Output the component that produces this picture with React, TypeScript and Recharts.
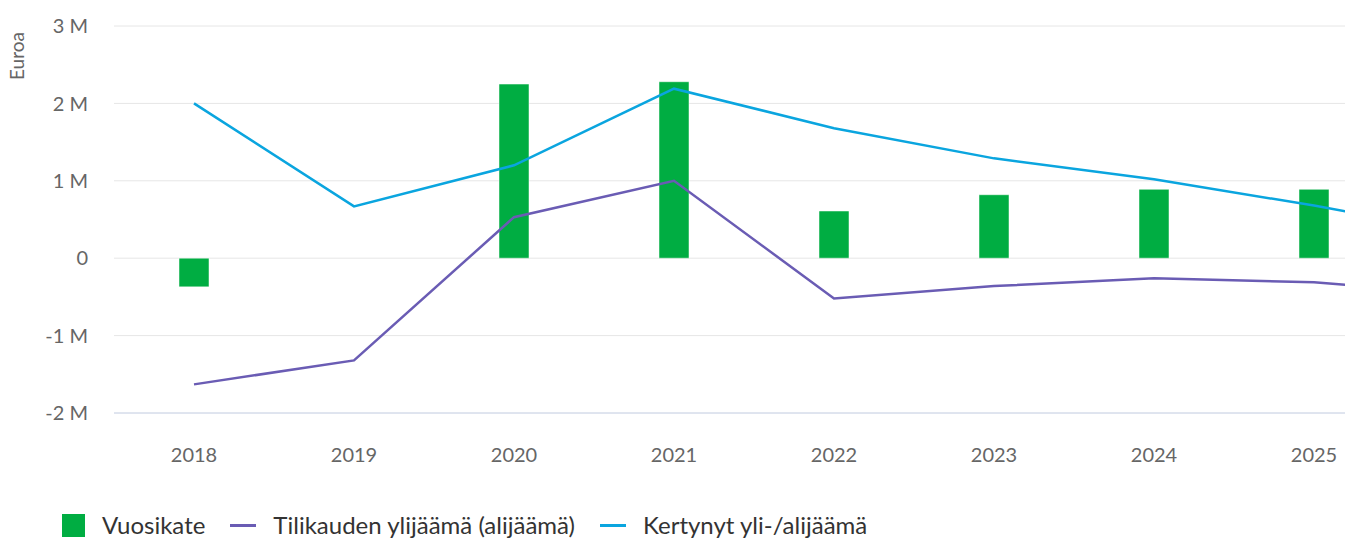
import React from 'react';
import {
  ComposedChart,
  Bar,
  Line,
  XAxis,
  YAxis,
  CartesianGrid,
  Legend,
} from 'recharts';

// values in millions of euros
const years = ['2018', '2019', '2020', '2021', '2022', '2023', '2024', '2025', '2026'];
const shownYears = ['2018', '2019', '2020', '2021', '2022', '2023', '2024', '2025'];
const vuosikate = [-0.37, null, 2.25, 2.28, 0.61, 0.82, 0.89, 0.89, null];
const tilikaudenYlijaama = [-1.63, -1.32, 0.53, 1.0, -0.52, -0.36, -0.26, -0.31, -0.48];
const kertynytYlijaama = [2.0, 0.67, 1.2, 2.19, 1.68, 1.29, 1.02, 0.68, 0.3];
const yTicks = [-2, -1, 0, 1, 2, 3];
const legendOrder = ['vuosikate', 'tilikausi', 'kertynyt'];

const data = years.map((year, i) => ({
  year,
  vuosikate: vuosikate[i],
  tilikausi: tilikaudenYlijaama[i],
  kertynyt: kertynytYlijaama[i],
}));

const font = 'Lato, "Open Sans", sans-serif';

const formatY = (v: number) => (v === 0 ? '0' : `${v} M`);

const renderLegend = (props: any) => {
  const items = [...(props.payload || [])].sort(
    (a: any, b: any) => legendOrder.indexOf(a.dataKey) - legendOrder.indexOf(b.dataKey)
  );
  return (
    <div style={{ display: 'flex', alignItems: 'center', height: 20, fontFamily: font, fontSize: 24, color: '#333' }}>
      {items.map((item: any) => (
        <div key={item.value} style={{ display: 'flex', alignItems: 'center', marginRight: 25 }}>
          {item.type === 'square' ? (
            <span style={{ width: 23, height: 23, background: item.color, display: 'inline-block' }} />
          ) : (
            <span style={{ width: 26, height: 3, background: item.color, display: 'inline-block' }} />
          )}
          <span style={{ marginLeft: 17, lineHeight: '20px' }}>{item.value}</span>
        </div>
      ))}
    </div>
  );
};

export default function App() {
  return (
    <div style={{ position: 'fixed', left: 0, top: 0, width: 1345, height: 538, overflow: 'hidden', background: '#fff' }}>
      <ComposedChart
        width={1560}
        height={538}
        data={data}
        margin={{ top: 26, right: 6, bottom: 65, left: 0 }}
      >
        <CartesianGrid vertical={false} stroke="#e6e6e6" />
        <XAxis
          dataKey="year"
          ticks={shownYears}
          axisLine={{ stroke: '#ccd6eb' }}
          tickLine={false}
          tickSize={0}
          tickMargin={35}
          height={40}
          tick={{ fill: '#666', fontSize: 20, fontFamily: font }}
        />
        <YAxis
          width={114}
          domain={[-2, 3]}
          ticks={yTicks}
          tickFormatter={formatY}
          axisLine={false}
          tickLine={false}
          tickSize={0}
          tickMargin={26}
          tick={{ fill: '#666', fontSize: 20, fontFamily: font }}
          label={() => (
            <text
              x={24}
              y={56}
              transform="rotate(-90 24 56)"
              textAnchor="middle"
              fill="#666"
              fontSize={19}
              fontFamily={font}
            >
              Euroa
            </text>
          )}
        />
        <Legend
          content={renderLegend}
          wrapperStyle={{ left: 62, top: 515, bottom: 'auto', width: 'auto' }}
        />
        <Bar
          dataKey="vuosikate"
          name="Vuosikate"
          fill="#00ad42"
          stroke="#ffffff"
          strokeWidth={0.5}
          barSize={30}
          legendType="square"
          isAnimationActive={false}
        />
        <Line
          dataKey="tilikausi"
          name="Tilikauden ylijäämä (alijäämä)"
          stroke="#6a5cb4"
          strokeWidth={2.5}
          dot={false}
          activeDot={false}
          legendType="line"
          isAnimationActive={false}
        />
        <Line
          dataKey="kertynyt"
          name="Kertynyt yli-/alijäämä"
          stroke="#0aa5df"
          strokeWidth={2.5}
          dot={false}
          activeDot={false}
          legendType="line"
          isAnimationActive={false}
        />
      </ComposedChart>
    </div>
  );
}
